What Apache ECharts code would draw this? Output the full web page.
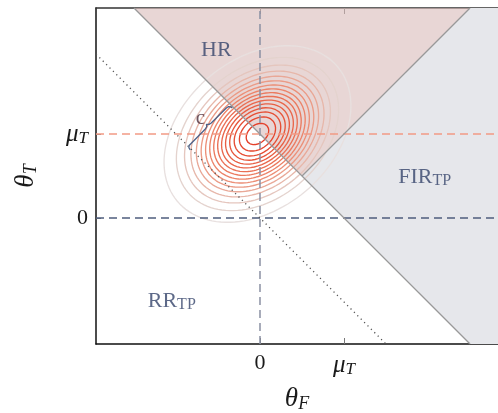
<!DOCTYPE html>
<html><head><meta charset="utf-8">
<script src="https://cdn.jsdelivr.net/npm/echarts@6/dist/echarts.min.js"></script>
<style>html,body{margin:0;padding:0;background:#fff}#c{width:498px;height:413px}</style>
</head><body><div id="c"></div>
<script>
// ---- data (units of mu_T) ----
const xRange = [-1.952, 2.833];
const yRange = [-1.5, 2.5];
const tickValues = [0, 1];
const tickLabelText = { 0: '{r|0}', 1: '{m|μ}{s|T}' };
const hrRegion = [[-1.5, 2.5], [2.5, 2.5], [0.5, 0.5]];
const firRegion = [[0.5, 0.5], [2.5, 2.5], [2.833, 2.5], [2.833, -1.5], [2.5, -1.5]];
const diagLine = [[-1.5, 2.5], [2.5, -1.5]];
const hrEdge = [[0.5, 0.5], [2.5, 2.5]];
const zeroSumLine = [[-1.952, 1.952], [1.5, -1.5]];
const muLine = [[-1.952, 1], [2.833, 1]];
const zeroLine = [[-1.952, 0], [2.833, 0]];
const vertLine = [[0, -1.5], [0, 2.5]];
const gaussMean = [-0.03, 1.0];
const gaussSd = [0.525, 0.375];
const gaussAngleDeg = 40;
const contourLevels = [0.96, 0.90, 0.84, 0.78, 0.72, 0.66, 0.60, 0.54, 0.48, 0.42, 0.36, 0.30, 0.24, 0.18, 0.12, 0.06];
const contourColors = ['#e4402a', '#e5472f', '#e64f35', '#e7573c', '#e85f44', '#e9674c', '#ea7055', '#eb7a5f',
  '#ec846a', '#ec8f77', '#eb9b86', '#e9a897', '#e7b7aa', '#e5c6be', '#e4d3ce', '#e8e0df'];
const braceEnds = [[-0.83, 0.81], [-0.33, 1.31]];
const braceDepth = 0.05;
const regionLabels = [
  { text: '{r|HR}', pos: [-0.52, 2.0] },
  { text: '{r|FIR}{sr|TP}', pos: [1.96, 0.49] },
  { text: '{r|RR}{sr|TP}', pos: [-1.05, -0.99] }
];
const braceLabel = { text: 'c', pos: [-0.71, 1.19] };

// ---- styles ----
const SERIF = 'Liberation Serif';
const INK = '#1a1a1a';
const axisRich = {
  r: { fontFamily: SERIF, fontSize: 22, color: INK },
  m: { fontFamily: SERIF, fontStyle: 'italic', fontSize: 25, color: INK },
  s: { fontFamily: SERIF, fontStyle: 'italic', fontSize: 17, color: INK, verticalAlign: 'bottom', padding: [9, 0, 0, 0] }
};
const nameRich = {
  m: { fontFamily: SERIF, fontStyle: 'italic', fontSize: 27, color: INK },
  s: { fontFamily: SERIF, fontStyle: 'italic', fontSize: 18, color: INK, verticalAlign: 'bottom', padding: [11, 0, 0, 0] }
};
const regionRich = {
  r: { fontFamily: SERIF, fontSize: 22, color: '#34446a' },
  sr: { fontFamily: SERIF, fontSize: 16, color: '#34446a', verticalAlign: 'bottom', padding: [8, 0, 0, 0] }
};

function polygonSeries(pts, fill, opacity) {
  return {
    type: 'custom', coordinateSystem: 'cartesian2d', silent: true, clip: true,
    data: [[0, 0]],
    renderItem: (params, api) => ({
      type: 'polygon',
      shape: { points: pts.map(p => api.coord(p)) },
      style: { fill: fill, opacity: opacity, stroke: null }
    })
  };
}
function lineSeries(pts, color, width, type, z) {
  return {
    type: 'line', data: pts, showSymbol: false, symbol: 'none', silent: true, z: z || 2,
    lineStyle: { color: color, width: width, type: type || 'solid' }, animation: false
  };
}

const series = [];
series.push(polygonSeries(firRegion, '#e6e7eb', 1));
// contours of a bivariate normal density
const th = gaussAngleDeg * Math.PI / 180;
contourLevels.forEach((lv, i) => {
  const r = Math.sqrt(-2 * Math.log(lv));
  const pts = [];
  for (let k = 0; k <= 120; k++) {
    const phi = 2 * Math.PI * k / 120;
    const u = r * gaussSd[0] * Math.cos(phi), v = r * gaussSd[1] * Math.sin(phi);
    pts.push([gaussMean[0] + u * Math.cos(th) - v * Math.sin(th), gaussMean[1] + u * Math.sin(th) + v * Math.cos(th)]);
  }
  series.push(lineSeries(pts, contourColors[i], 1.35));
});
series.push(polygonSeries(hrRegion, 'rgb(217,187,185)', 0.6));
series.push(lineSeries(muLine, '#f29a85', 1.3, [8, 5]));
series.push(lineSeries(zeroLine, '#4f5e7e', 1.3, [8, 5]));
series.push(lineSeries(vertLine, '#8a90a3', 1.5, [8, 5]));
series.push(lineSeries(zeroSumLine, '#555', 1.3, [1.2, 3.6]));
series.push(lineSeries(diagLine, '#999999', 1.3));
series.push(lineSeries(hrEdge, '#999999', 1.3));
// curly brace marking the distance c between the two diagonals (shape built in data space)
(function () {
  const p0 = braceEnds[0], p1 = braceEnds[1];
  const dx = p1[0] - p0[0], dy = p1[1] - p0[1], L = Math.hypot(dx, dy);
  const t = [dx / L, dy / L];
  let n = [-t[1], t[0]];
  if (n[0] > 0) n = [-n[0], -n[1]];
  const h = braceDepth;
  const P = (base, a, b) => [base[0] + t[0] * a + n[0] * b, base[1] + t[1] * a + n[1] * b];
  const mid = [(p0[0] + p1[0]) / 2, (p0[1] + p1[1]) / 2];
  const out = [];
  const quad = (a, c, b) => { for (let s = 0; s <= 8; s++) { const u = s / 8;
    out.push([(1-u)*(1-u)*a[0] + 2*u*(1-u)*c[0] + u*u*b[0], (1-u)*(1-u)*a[1] + 2*u*(1-u)*c[1] + u*u*b[1]]); } };
  quad(p0, P(p0, 0, h), P(p0, h, h));
  quad(P(mid, -h, h), P(mid, 0, h), P(mid, 0, 2 * h));
  quad(P(mid, 0, 2 * h), P(mid, 0, h), P(mid, h, h));
  quad(P(p1, -h, h), P(p1, 0, h), p1);
  series.push(lineSeries(out, '#4f6288', 1.3, 'solid', 5));
})();
// labels
series.push({
  type: 'scatter', symbolSize: 0, silent: true, z: 6,
  data: regionLabels.map(l => ({ value: l.pos, label: { formatter: l.text } })),
  label: { show: true, position: 'inside', rich: regionRich }
});
series.push({
  type: 'scatter', symbolSize: 0, silent: true, z: 6,
  data: [{ value: braceLabel.pos }],
  label: { show: true, position: 'inside', formatter: braceLabel.text, fontFamily: SERIF, fontSize: 21, color: '#4a2b38' }
});

const chart = echarts.init(document.getElementById('c'), null, { renderer: 'canvas' });
chart.setOption({
  animation: false,
  grid: { left: 96, right: 0, top: 8, bottom: 69, containLabel: false, outerBoundsMode: 'none' },
  xAxis: [{
    type: 'value', min: xRange[0], max: xRange[1], position: 'bottom',
    name: '{m|θ}{s|F}', nameLocation: 'middle', nameGap: 40, nameTextStyle: { rich: nameRich },
    axisLine: { onZero: false, lineStyle: { color: '#111', width: 1.5 } },
    axisTick: { inside: true, length: 6, customValues: tickValues, lineStyle: { color: '#777' } },
    axisLabel: { customValues: tickValues, margin: 8, formatter: v => tickLabelText[v] || '', rich: axisRich },
    splitLine: { show: false }
  }, {
    type: 'value', min: xRange[0], max: xRange[1], position: 'top',
    axisLine: { onZero: false, lineStyle: { color: '#333', width: 1.5 } },
    axisTick: { inside: true, length: 6, customValues: tickValues, lineStyle: { color: '#777' } },
    axisLabel: { show: false }, splitLine: { show: false }
  }],
  yAxis: [{
    type: 'value', min: yRange[0], max: yRange[1], position: 'left',
    name: '{m|θ}{s|T}', nameLocation: 'middle', nameGap: 56, nameRotate: 90, nameTextStyle: { rich: nameRich },
    axisLine: { onZero: false, lineStyle: { color: '#111', width: 1.5 } },
    axisTick: { inside: true, length: 5, customValues: tickValues, lineStyle: { color: '#777' } },
    axisLabel: { customValues: tickValues, margin: 8, formatter: v => tickLabelText[v] || '', rich: axisRich },
    splitLine: { show: false }
  }],
  series: series
});
</script></body></html>
